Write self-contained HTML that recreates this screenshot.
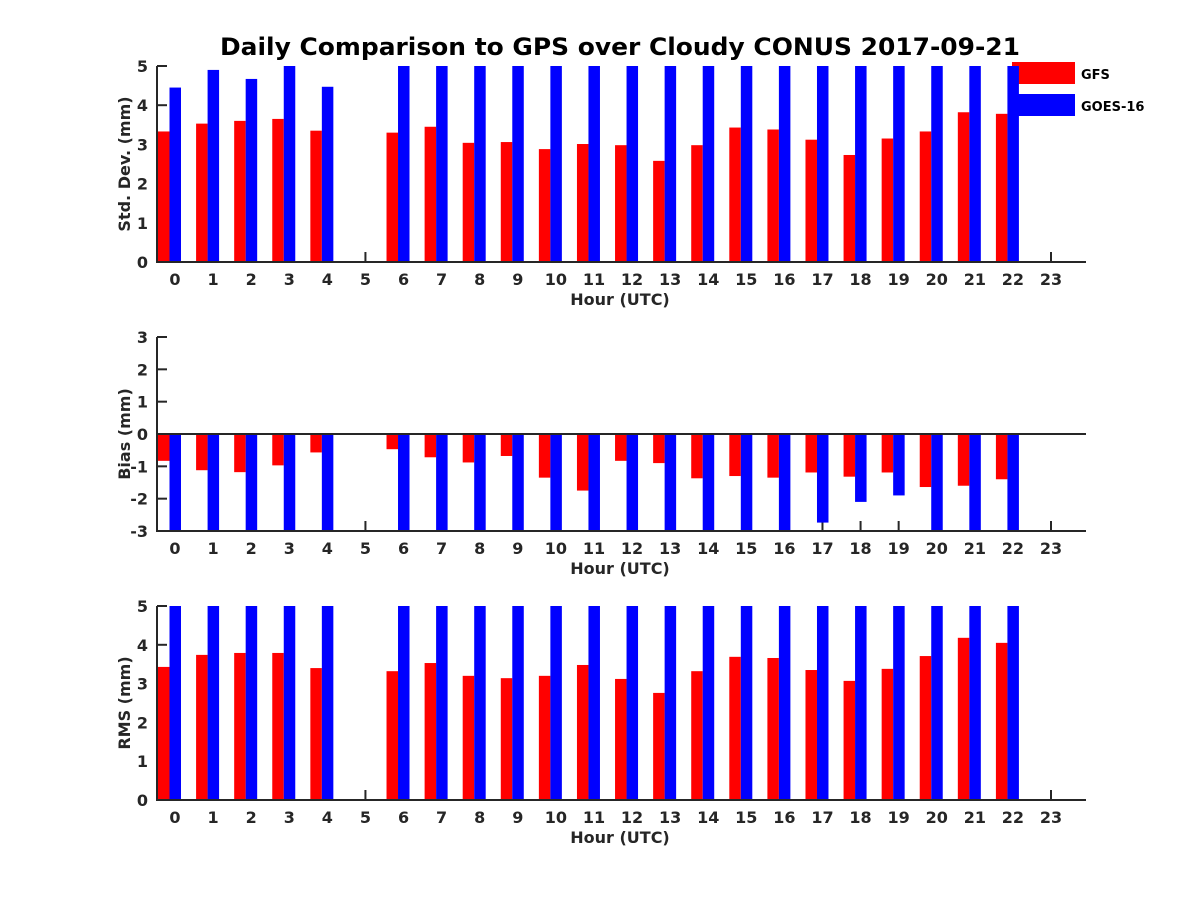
<!DOCTYPE html>
<html><head><meta charset="utf-8"><style>
body{margin:0;background:#fff}
svg{display:block;font-family:"DejaVu Sans","Liberation Sans",sans-serif;font-weight:bold}
</style></head><body>
<svg id="chart" width="1200" height="900" viewBox="0 0 1200 900">
<text x="620" y="55" text-anchor="middle" font-size="24" textLength="800" lengthAdjust="spacingAndGlyphs" fill="#000">Daily Comparison to GPS over Cloudy CONUS 2017-09-21</text>
<g>
<rect x="1012" y="62" width="63" height="22" fill="#ff0000"/>
<text x="1081" y="79" font-size="13" fill="#000">GFS</text>
<rect x="1012" y="94" width="63" height="22" fill="#0000ff"/>
<text x="1081" y="111" font-size="13" fill="#000">GOES-16</text>
</g>
</svg>
<script>
const hours = [0,1,2,3,4,5,6,7,8,9,10,11,12,13,14,15,16,17,18,19,20,21,22,23];
const stdGFS = [3.33,3.53,3.6,3.65,3.35,null,3.3,3.45,3.04,3.06,2.88,3.01,2.98,2.58,2.98,3.43,3.38,3.12,2.73,3.15,3.33,3.82,3.78,null];
const stdGOES = [4.45,4.9,4.67,5.3,4.47,null,5.5,5.5,5.5,5.5,5.5,5.5,5.5,5.5,5.5,5.5,5.5,5.5,5.5,5.5,5.5,5.5,5.5,null];
const biasGFS = [-0.83,-1.12,-1.18,-0.97,-0.57,null,-0.47,-0.72,-0.88,-0.68,-1.35,-1.75,-0.83,-0.9,-1.37,-1.3,-1.35,-1.19,-1.32,-1.19,-1.64,-1.6,-1.4,null];
const biasGOES = [-3.5,-3.5,-3.5,-3.5,-3.5,null,-3.5,-3.5,-3.5,-3.5,-3.5,-3.5,-3.5,-3.5,-3.5,-3.5,-3.5,-2.74,-2.1,-1.9,-3.5,-3.5,-3.5,null];
const rmsGFS = [3.43,3.74,3.79,3.79,3.4,null,3.32,3.53,3.2,3.14,3.2,3.48,3.12,2.76,3.32,3.69,3.66,3.35,3.07,3.38,3.71,4.18,4.05,null];
const rmsGOES = [5.5,5.5,5.5,5.5,5.5,null,5.5,5.5,5.5,5.5,5.5,5.5,5.5,5.5,5.5,5.5,5.5,5.5,5.5,5.5,5.5,5.5,5.5,null];
const stdTicks = [0,1,2,3,4,5];
const biasTicks = [-3,-2,-1,0,1,2,3];
const rmsTicks = [0,1,2,3,4,5];

const NS="http://www.w3.org/2000/svg";
const svg=document.getElementById('chart');
const X0=157,X1=1086;
function xs(h){return 175+h*(1051-175)/23;}
function mk(tag,attrs,parent){const e=document.createElementNS(NS,tag);for(const k in attrs)e.setAttribute(k,attrs[k]);(parent||svg).appendChild(e);return e;}

function panel(name,top,bot,ymin,ymax,ticks,gfs,goes,ylabel,zeroLine){
  const g=mk('g',{});
  
  
  const ys=v=>bot-(v-ymin)*(bot-top)/(ymax-ymin);
  const base=ys(Math.max(ymin,Math.min(ymax,0)));
  const clip=v=>Math.max(ymin,Math.min(ymax,v));
  ticks.forEach(t=>{
    mk('line',{x1:X0,x2:X0+10,y1:ys(t),y2:ys(t),stroke:'#262626','stroke-width':2},g);
    const l=mk('text',{x:X0-9,y:ys(t)+6,'text-anchor':'end','font-size':16,fill:'#262626'},g);
    l.textContent=t;
    
    
  });
  hours.forEach(h=>{
    mk('line',{x1:xs(h),x2:xs(h),y1:bot,y2:bot-10,stroke:'#262626','stroke-width':2},g);
    const l=mk('text',{x:xs(h),y:bot+23,'text-anchor':'middle','font-size':16,fill:'#262626'},g);
    l.textContent=h;
    
    
  });
  hours.forEach((h,i)=>{
    [[gfs[i],'#ff0000',-17,'gfs'],[goes[i],'#0000ff',-5.5,'goes']].forEach(([v,c,off,s])=>{
      if(v==null)return;
      const y=ys(clip(v));
      const r=mk('rect',{x:xs(h)+off,y:Math.min(y,base),width:11.5,height:Math.abs(y-base),fill:c},g);
      
      
    });
  });
  if(zeroLine){const z=mk('line',{x1:X0,x2:X1,y1:ys(0),y2:ys(0),stroke:'#262626','stroke-width':2},g);
    
    }
  const ax=mk('path',{d:`M${X0},${top}V${bot}H${X1}`,fill:'none',stroke:'#262626','stroke-width':2},g);
  
  
  const xl=mk('text',{x:620,y:bot+43,'text-anchor':'middle','font-size':16,fill:'#262626'},g);
  xl.textContent='Hour (UTC)';
  
  
  const cy=(top+bot)/2;
  const yl=mk('text',{x:130,y:cy,'text-anchor':'middle','font-size':16,fill:'#262626',transform:`rotate(-90 130 ${cy})`},g);
  yl.textContent=ylabel;
  
  
}
panel('std',66,262,0,5,stdTicks,stdGFS,stdGOES,'Std. Dev. (mm)',false);
panel('bias',337,531,-3,3,biasTicks,biasGFS,biasGOES,'Bias (mm)',true);
panel('rms',606,800,0,5,rmsTicks,rmsGFS,rmsGOES,'RMS (mm)',false);
</script>
</body></html>
